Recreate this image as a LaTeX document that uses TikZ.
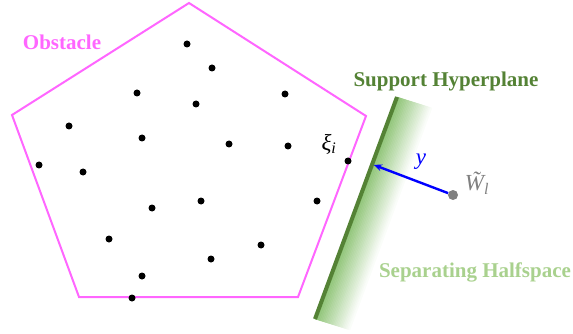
\documentclass[tikz,border=0pt]{standalone}
\usepackage{fontspec}
\setmainfont{Liberation Serif}
\usetikzlibrary{calc,arrows.meta}
\definecolor{obspink}{RGB}{255,102,255}
\definecolor{hypgreen}{RGB}{84,130,53}
\definecolor{halfgreen}{RGB}{169,209,142}
\definecolor{bandgreen}{RGB}{140,195,115}
\definecolor{ptgray}{RGB}{128,128,128}
\begin{document}
\begin{tikzpicture}[x=1pt, y=-1pt, dot/.style={circle,fill=black,inner sep=0pt,minimum size=7pt}, big/.style={font=\bfseries\fontsize{21}{21}\selectfont}, sym/.style={font=\itshape\fontsize{23}{23}\selectfont}]
\useasboundingbox (0,0) rectangle (573,334);
% separating halfspace: strips fading to white
\coordinate (hA) at (397,97); \coordinate (hB) at (315,319);
\coordinate (hA2) at (432,108); \coordinate (hB2) at (350,330);
\foreach \i in {0,...,23}{
  \pgfmathsetmacro\fa{\i/24} \pgfmathsetmacro\fb{(\i+1)/24} \pgfmathtruncatemacro\tint{100-\i*100/24}
  \path[fill=bandgreen!\tint!white, draw=bandgreen!\tint!white, line width=0.4pt] ($(hA)!\fa!(hA2)$) -- ($(hA)!\fb!(hA2)$) -- ($(hB)!\fb!(hB2)$) -- ($(hB)!\fa!(hB2)$) -- cycle;
}
\draw[hypgreen,line width=4pt] (hA)--(hB);
% obstacle
\draw[obspink,line width=2pt] (189,3)--(366,116)--(298,297)--(79,297)--(12,115)--cycle;
\node[dot] (p1) at (187,44) {}; \node[dot] (p2) at (212,68) {}; \node[dot] (p3) at (137,93) {}; \node[dot] (p4) at (196,104) {};
\node[dot] (p5) at (285,94) {}; \node[dot] (p6) at (69,126) {}; \node[dot] (p7) at (142,138) {}; \node[dot] (p8) at (229,144) {};
\node[dot] (p9) at (288,146) {}; \node[dot] (p10) at (39,165) {}; \node[dot] (p11) at (83,172) {}; \node[dot] (p12) at (152,208) {};
\node[dot] (p13) at (201,201) {}; \node[dot] (p14) at (109,239) {}; \node[dot] (p15) at (261,245) {}; \node[dot] (p16) at (211,259) {};
\node[dot] (p17) at (142,276) {}; \node[dot] (p18) at (132,298) {}; \node[dot] (p19) at (317,201) {}; \node[dot] (xip) at (348,161) {};
% closest point and its offset vector
\node[circle,fill=ptgray,inner sep=0pt,minimum size=10pt] (wt) at (453,195) {};
\coordinate (touch) at ($(hA)!0.306!(hB)+(2,0)$);
\draw[blue,line width=2.4pt,-{Stealth[length=8pt,width=7pt]}] (wt)--(touch);
% labels
\node[big,obspink] (obs) at (62,42) {Obstacle};
\node[big,hypgreen] (sup) at (446,81) {Support Hyperplane};
\node[big,halfgreen] (sep) at (475,272) {Separating Halfspace};
\node[sym] (xi) at (329,144) {ξ\textsubscript{\textit{i}}};
\node[sym,blue] (yl) at (421,162) {y};
\node[sym,ptgray] (wl) at (477,183) {\~{W}\textsubscript{\textit{l}}};
\end{tikzpicture}
\end{document}
